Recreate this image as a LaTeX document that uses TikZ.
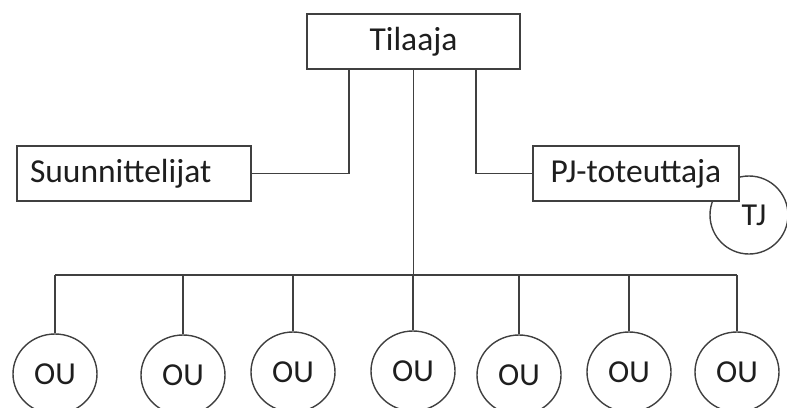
\documentclass[tikz,border=0pt]{standalone}
\usepackage{fontspec}
\setmainfont{Carlito}
\usetikzlibrary{shapes.geometric}
\definecolor{linegray}{HTML}{404040}
\definecolor{inkgray}{HTML}{1E1E1E}
\tikzset{
  box/.style={draw=linegray, line width=1.4pt, fill=white, rectangle,
    minimum height=55pt, inner sep=0pt, text=inkgray,
    font=\fontsize{33.5}{38}\selectfont},
  unit/.style={draw=linegray, line width=1.4pt, fill=white, ellipse,
    minimum width=84pt, minimum height=80pt, inner sep=0pt, text=inkgray,
    font=\fontsize{32}{36}\selectfont},
  link/.style={draw=linegray, line width=1.4pt}
}
\begin{document}
\begin{tikzpicture}[x=1pt, y=-1pt]
  \useasboundingbox (0,0) rectangle (787,407);
  \clip (0,0) rectangle (787,407);
  \fill[white] (0,0) rectangle (787,407);

  % top level
  \node[box, minimum width=213pt] (tilaaja) at (413.5,41.5) {Tilaaja};

  % second level
  \node[box, minimum width=234pt, text width=208pt, inner xsep=13pt, align=left]
    (suun) at (134,173.5) {Suunnittelijat};
  \node[unit, minimum width=78pt, minimum height=78pt] (tj) at (749,215) {\hspace{10pt}TJ};
  \node[box, minimum width=206pt] (pj) at (636,173.5) {PJ-toteuttaja};

  % links from the top box
  \draw[link] ([xshift=-64.5pt]tilaaja.south) |- (suun.east);
  \draw[link] ([xshift=62.5pt]tilaaja.south) |- (pj.west);
  \coordinate (bus) at (413.5,275);
  \draw[link] (tilaaja.south) -- (bus);

  % bottom row
  \node[unit] (ou1) at (55,374)  {OU};
  \node[unit] (ou2) at (183,375) {OU};
  \node[unit] (ou3) at (293,372) {OU};
  \node[unit] (ou4) at (413,371) {OU};
  \node[unit] (ou5) at (519,375) {OU};
  \node[unit] (ou6) at (629,372) {OU};
  \node[unit] (ou7) at (737,372) {OU};

  \draw[link] (ou1.north |- bus) -- (ou7.north |- bus);
  \foreach \n in {ou1,ou2,ou3,ou4,ou5,ou6,ou7}
    \draw[link] (\n.north) -- (\n.north |- bus);
\end{tikzpicture}
\end{document}
